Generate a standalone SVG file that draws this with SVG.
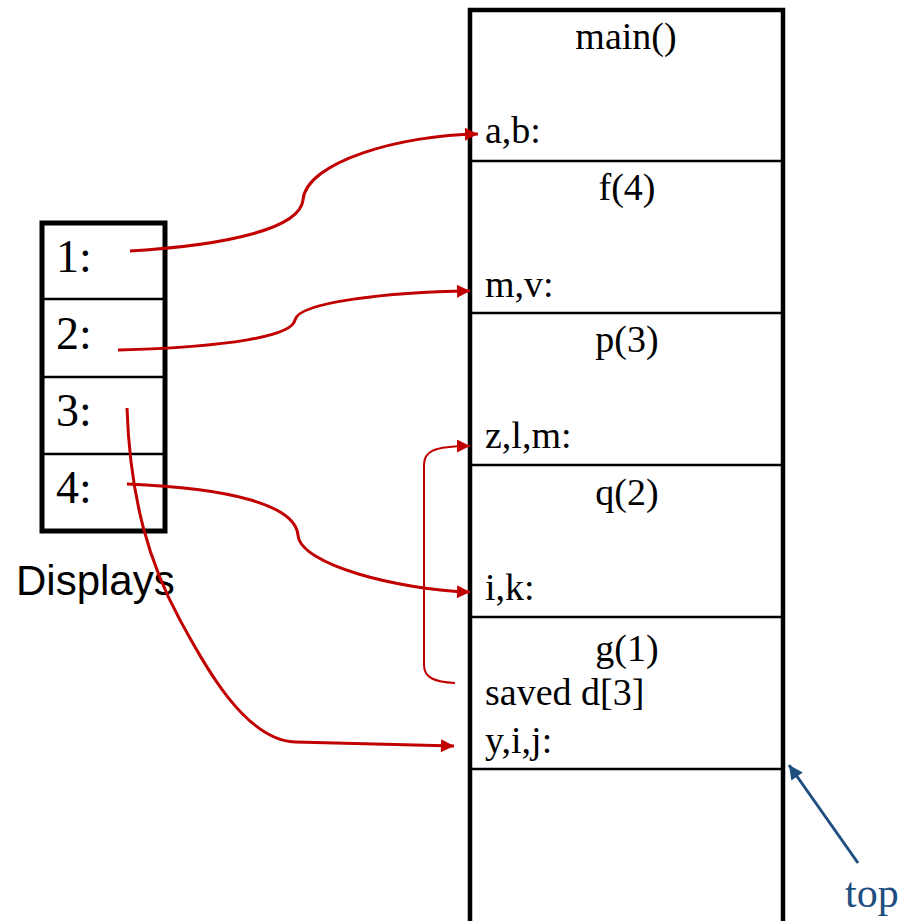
<svg xmlns="http://www.w3.org/2000/svg" width="918" height="921" viewBox="0 0 918 921">
<defs>
<style>
.t{font-family:"Liberation Serif","Times New Roman",serif;font-size:38px;fill:#000}
.d{font-family:"Liberation Serif","Times New Roman",serif;font-size:46px;fill:#000}
.frame{fill:none;stroke:#000;stroke-width:4.5}
.div{stroke:#000;stroke-width:2.5}
.red{fill:none;stroke:#C00000;stroke-width:3}
.redthin{fill:none;stroke:#C00000;stroke-width:2}
</style>
<marker id="ah" viewBox="0 0 10 10" refX="10" refY="5" markerWidth="15" markerHeight="13" markerUnits="userSpaceOnUse" orient="auto">
<path d="M0,0 L10,5 L0,10 Z" fill="#C00000"/>
</marker>
<marker id="ahb" viewBox="0 0 10 10" refX="10" refY="5" markerWidth="16" markerHeight="14" markerUnits="userSpaceOnUse" orient="auto">
<path d="M0,0 L10,5 L0,10 Z" fill="#1F4E80"/>
</marker>
</defs>
<rect width="918" height="921" fill="#fff"/>

<g id="stack">
<path class="frame" d="M470,925 L470,10 L783,10 L783,925"/>
<line class="div" x1="470" y1="161" x2="783" y2="161"/>
<line class="div" x1="470" y1="313" x2="783" y2="313"/>
<line class="div" x1="470" y1="465" x2="783" y2="465"/>
<line class="div" x1="470" y1="617" x2="783" y2="617"/>
<line class="div" x1="470" y1="769" x2="783" y2="769"/>
</g>
<g id="frame-main">
<text class="t" x="626" y="49" text-anchor="middle">main()</text>
<text class="t" x="485" y="143">a,b:</text>
</g>
<g id="frame-f">
<text class="t" x="627" y="200" text-anchor="middle">f(4)</text>
<text class="t" x="485" y="297">m,v:</text>
</g>
<g id="frame-p">
<text class="t" x="627" y="352" text-anchor="middle">p(3)</text>
<text class="t" x="485" y="448">z,l,m:</text>
</g>
<g id="frame-q">
<text class="t" x="627" y="505" text-anchor="middle">q(2)</text>
<text class="t" x="485" y="600">i,k:</text>
</g>
<g id="frame-g">
<text class="t" x="627" y="661" text-anchor="middle">g(1)</text>
<text class="t" x="485" y="705">saved d[3]</text>
<text class="t" x="485" y="753">y,i,j:</text>
</g>

<g id="displays">
<rect x="42" y="223" width="123" height="308" fill="none" stroke="#000" stroke-width="5"/>
<line class="div" x1="42" y1="299" x2="165" y2="299"/>
<line class="div" x1="42" y1="377" x2="165" y2="377"/>
<line class="div" x1="42" y1="454" x2="165" y2="454"/>
<text class="d" x="56" y="272">1:</text>
<text class="d" x="56" y="349">2:</text>
<text class="d" x="56" y="426">3:</text>
<text class="d" x="56" y="503">4:</text>
<text x="16" y="595" font-family="'Liberation Sans',Arial,sans-serif" font-size="42" fill="#000">Displays</text>
</g>

<g id="top-label">
<text x="845" y="907" font-family="'Liberation Serif','Times New Roman',serif" font-size="42" fill="#1F4E80">top</text>
</g>

<g id="connectors">
<path class="red" marker-end="url(#ah)" d="M130,251 C230,245 300,228 303,200 C306,162 400,135 478,134"/>
<path class="red" marker-end="url(#ah)" d="M118,350 C230,347 292,336 295,320 C298,302 390,292 470,291"/>
<path class="red" marker-end="url(#ah)" d="M127,408 C130,500 150,565 180,620 C205,666 245,740 295,742 L454,746"/>
<path class="red" marker-end="url(#ah)" d="M127,484 C230,488 295,505 298,535 C300,565 400,590 470,592"/>
<path class="redthin" marker-end="url(#ah)" d="M455,683 C435,682 424,678 424,665 L424,465 C424,452 432,446 470,446"/>
<line x1="858" y1="863" x2="789" y2="765" stroke="#1F4E80" stroke-width="3" marker-end="url(#ahb)"/>
</g>
</svg>
